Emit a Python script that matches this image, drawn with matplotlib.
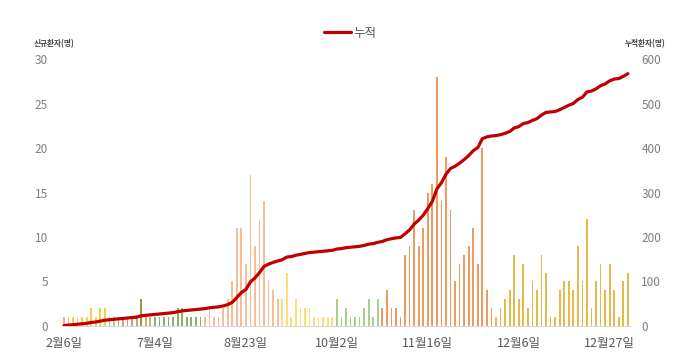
import matplotlib
matplotlib.use("Agg")
import matplotlib.pyplot as plt
import numpy as np

# --- data (daily new cases, one bar per reported day) ---
daily = [1, 1,
         1, 1, 1, 1, 2, 1, 2, 2,
         1, 1,
         1, 1, 1, 1, 1,
         3, 1, 1,
         1, 1, 1, 1, 1, 2, 2, 1, 1, 1, 1,
         1, 2, 1, 1, 2, 3, 5, 11, 11, 7, 17, 9, 12, 14, 5, 4, 3,
         3, 6, 1, 3, 2, 2, 2, 1, 1, 1, 1, 1,
         3, 1, 2, 1, 1, 1, 2, 3, 1, 3,
         2, 4, 2, 2, 1, 8, 9, 13, 9, 11, 15, 16, 28, 14, 19, 13, 5, 7, 8, 9, 11, 7, 20, 4, 2,
         1, 2, 3, 4, 8, 3, 7, 2, 5, 4, 8, 6, 1, 1, 4, 5, 5, 4, 9, 5, 12, 2, 5, 7, 4, 7, 4, 1, 5, 6]
tick_labels = ["2월6일", "7월4일", "8월23일", "10월2일", "11월16일", "12월6일", "12월27일"]
legend_label = "누적"
left_title = "신규환자(명)"
right_title = "누적환자(명)"

# colour runs (number of bars, colour) -- one colour per outbreak period
color_runs = [(2, "#F4B183"), (8, "#F9CB4F"), (2, "#A9CC8C"), (5, "#C9A08A"),
              (1, "#A8913A"), (2, "#C8B468"), (11, "#8FAE6E"), (17, "#F8BD98"),
              (12, "#FDDC7A"), (10, "#A9D08E"), (25, "#EC9C62"), (30, "#E6B94C")]

plt.rcParams["font.family"] = ["Noto Sans CJK KR", "DejaVu Sans"]

x = np.arange(len(daily))
cum = np.cumsum(daily)
colors = []
for n, c in color_runs:
    colors += [c] * n

fig = plt.figure(figsize=(6.8, 3.64), dpi=100)
ax = fig.add_axes([0.0907, 0.1044, 0.836, 0.7335])
ax.bar(x, daily, width=0.38, color=colors, zorder=2)
ax.set_xlim(-0.5, len(daily) - 0.5)
ax.set_ylim(0, 30)
ax.set_yticks(range(0, 31, 5))
ax.set_xticks(x[::20])
ax.set_xticklabels(tick_labels)
ax.tick_params(axis="x", length=0, pad=8, labelsize=9, labelcolor="#595959")
ax.tick_params(axis="y", length=0, pad=10, labelsize=8.5, labelcolor="#7f7f7f")
for s in ["top", "right", "left"]:
    ax.spines[s].set_visible(False)
ax.spines["bottom"].set_color("#d9d9d9")

ax2 = ax.twinx()
ax2.plot(x, cum, color="#C00000", lw=2.3, label=legend_label, zorder=3,
         solid_capstyle="round")
ax2.set_ylim(0, 600)
ax2.set_yticks(range(0, 601, 100))
ax2.tick_params(axis="y", length=0, pad=8, labelsize=8.5, labelcolor="#7f7f7f")
for s in ax2.spines.values():
    s.set_visible(False)

fig.text(0.079, 0.879, left_title, fontsize=5.5, fontweight="bold",
         color="#404040", ha="center", va="center")
fig.text(0.949, 0.879, right_title, fontsize=5.5, fontweight="bold",
         color="#404040", ha="center", va="center")

fig.legend(loc="center", bbox_to_anchor=(0.515, 0.909), frameon=False,
           fontsize=9, labelcolor="#595959", handlelength=2.2, handletextpad=0.2)

fig.savefig("out.png", dpi=100)
